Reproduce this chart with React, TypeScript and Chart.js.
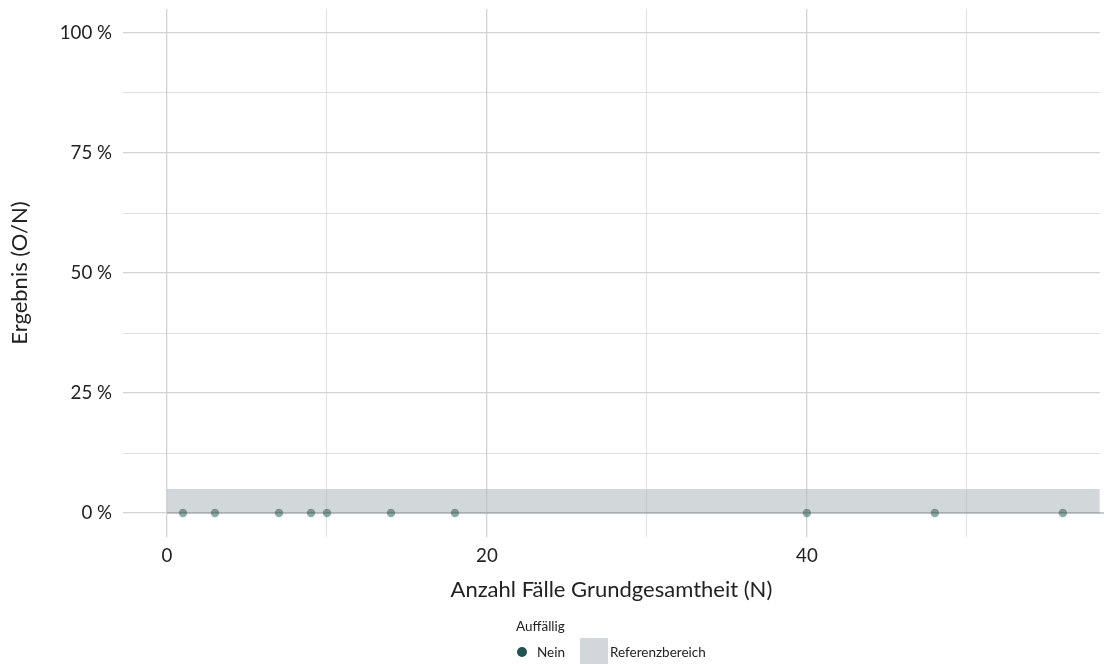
import React, { useEffect, useRef } from "react";
import { Chart, registerables } from "chart.js";

Chart.register(...registerables);

const caseCounts: number[] = [1, 3, 7, 9, 10, 14, 18, 40, 48, 56];
const resultPercent: number[] = [0, 0, 0, 0, 0, 0, 0, 0, 0, 0];
const referenceRange: number[] = [0, 5];
const referenceXRange: number[] = [0, 58.3];
const xTicks: number[] = [0, 10, 20, 30, 40, 50];
const xLabelTicks: number[] = [0, 20, 40];
const yTicks: number[] = [0, 12.5, 25, 37.5, 50, 62.5, 75, 87.5, 100];
const yLabelTicks: number[] = [0, 25, 50, 75, 100];

const FONT = "Lato, 'Open Sans', sans-serif";
const GRID = "#d2d2d2";

const bandPlugin = {
  id: "band",
  beforeDatasetsDraw(chart: any) {
    const { ctx, scales } = chart;
    const x = scales.x;
    const y = scales.y;
    const x0 = x.getPixelForValue(referenceXRange[0]);
    const x1 = Math.min(x.getPixelForValue(referenceXRange[1]), chart.chartArea.right);
    const y0 = y.getPixelForValue(referenceRange[0]);
    const y1 = y.getPixelForValue(referenceRange[1]);
    ctx.save();
    ctx.fillStyle = "rgba(180,188,194,0.6)";
    ctx.fillRect(x0, y1, x1 - x0, y0 - y1);
    ctx.strokeStyle = "rgba(150,155,160,0.7)";
    ctx.lineWidth = 1.5;
    ctx.beginPath();
    ctx.moveTo(x0, y0);
    ctx.lineTo(chart.width, y0);
    ctx.stroke();
    ctx.restore();
  },
};

const legendPlugin = {
  id: "customLegend",
  afterDraw(chart: any) {
    const { ctx } = chart;
    ctx.save();
    ctx.fillStyle = "#222";
    ctx.font = `13.5px ${FONT}`;
    ctx.textBaseline = "middle";
    ctx.textAlign = "left";
    ctx.fillText("Auffällig", 516, 627);
    ctx.fillStyle = "#1d5550";
    ctx.beginPath();
    ctx.arc(522, 652, 5, 0, Math.PI * 2);
    ctx.fill();
    ctx.fillStyle = "#222";
    ctx.fillText("Nein", 537, 653);
    ctx.fillStyle = "#d3d7db";
    ctx.fillRect(580, 638, 28, 26);
    ctx.fillStyle = "#222";
    ctx.fillText("Referenzbereich", 610, 653);
    ctx.restore();
  },
};

export default function App() {
  const ref = useRef<HTMLCanvasElement>(null);
  useEffect(() => {
    if (!ref.current) return;
    const chart = new Chart(ref.current, {
      type: "scatter",
      data: {
        datasets: [
          {
            label: "Nein",
            data: caseCounts.map((n, i) => ({ x: n, y: resultPercent[i] })),
            backgroundColor: "rgba(29,85,80,0.5)",
            borderWidth: 0,
            pointRadius: 4.2,
          },
        ],
      },
      options: {
        responsive: false,
        animation: false,
        layout: { padding: { left: 0, right: 0, top: 9, bottom: 0 } },
        plugins: { legend: { display: false }, tooltip: { enabled: false } },
        scales: {
          x: {
            type: "linear",
            min: -2.75,
            max: 58.31,
            afterBuildTicks: (s: any) => {
              s.ticks = xTicks.map((v) => ({ value: v }));
            },
            afterFit: (s: any) => {
              s.height = 127;
            },
            border: { display: false },
            grid: {
              drawTicks: false,
              color: GRID,
              lineWidth: (c: any) => (xLabelTicks.includes(c.tick?.value) ? 1.3 : 0.7),
            },
            ticks: {
              padding: 8,
              maxRotation: 0,
              color: "#222",
              font: { family: FONT, size: 18.7 },
              callback: (v: any) => (xLabelTicks.includes(Number(v)) ? String(v) : ""),
            },
            title: {
              display: true,
              text: "Anzahl Fälle Grundgesamtheit (N)",
              color: "#222",
              font: { family: FONT, size: 22 },
              padding: { top: 0, bottom: 61 },
            },
          },
          y: {
            type: "linear",
            min: -5,
            max: 105,
            afterBuildTicks: (s: any) => {
              s.ticks = yTicks.map((v) => ({ value: v }));
            },
            afterFit: (s: any) => {
              s.width = 123;
              s.paddingTop = 0;
              s.paddingBottom = 0;
            },
            border: { display: false },
            grid: {
              drawTicks: false,
              color: GRID,
              lineWidth: (c: any) => (yLabelTicks.includes(c.tick?.value) ? 1.3 : 0.7),
            },
            ticks: {
              padding: 11,
              color: "#222",
              font: { family: FONT, size: 18.7 },
              callback: (v: any) => (yLabelTicks.includes(Number(v)) ? `${v} %` : ""),
            },
            title: {
              display: true,
              text: "Ergebnis (O/N)",
              color: "#222",
              font: { family: FONT, size: 22 },
              padding: { top: 7, bottom: 0 },
            },
          },
        },
      },
      plugins: [bandPlugin, legendPlugin],
    });
    return () => chart.destroy();
  }, []);
  return (
    <div style={{ position: "absolute", left: 0, top: 0, width: 1104, height: 664, background: "#fff" }}>
      <canvas ref={ref} width={1104} height={664} style={{ display: "block" }} />
    </div>
  );
}
